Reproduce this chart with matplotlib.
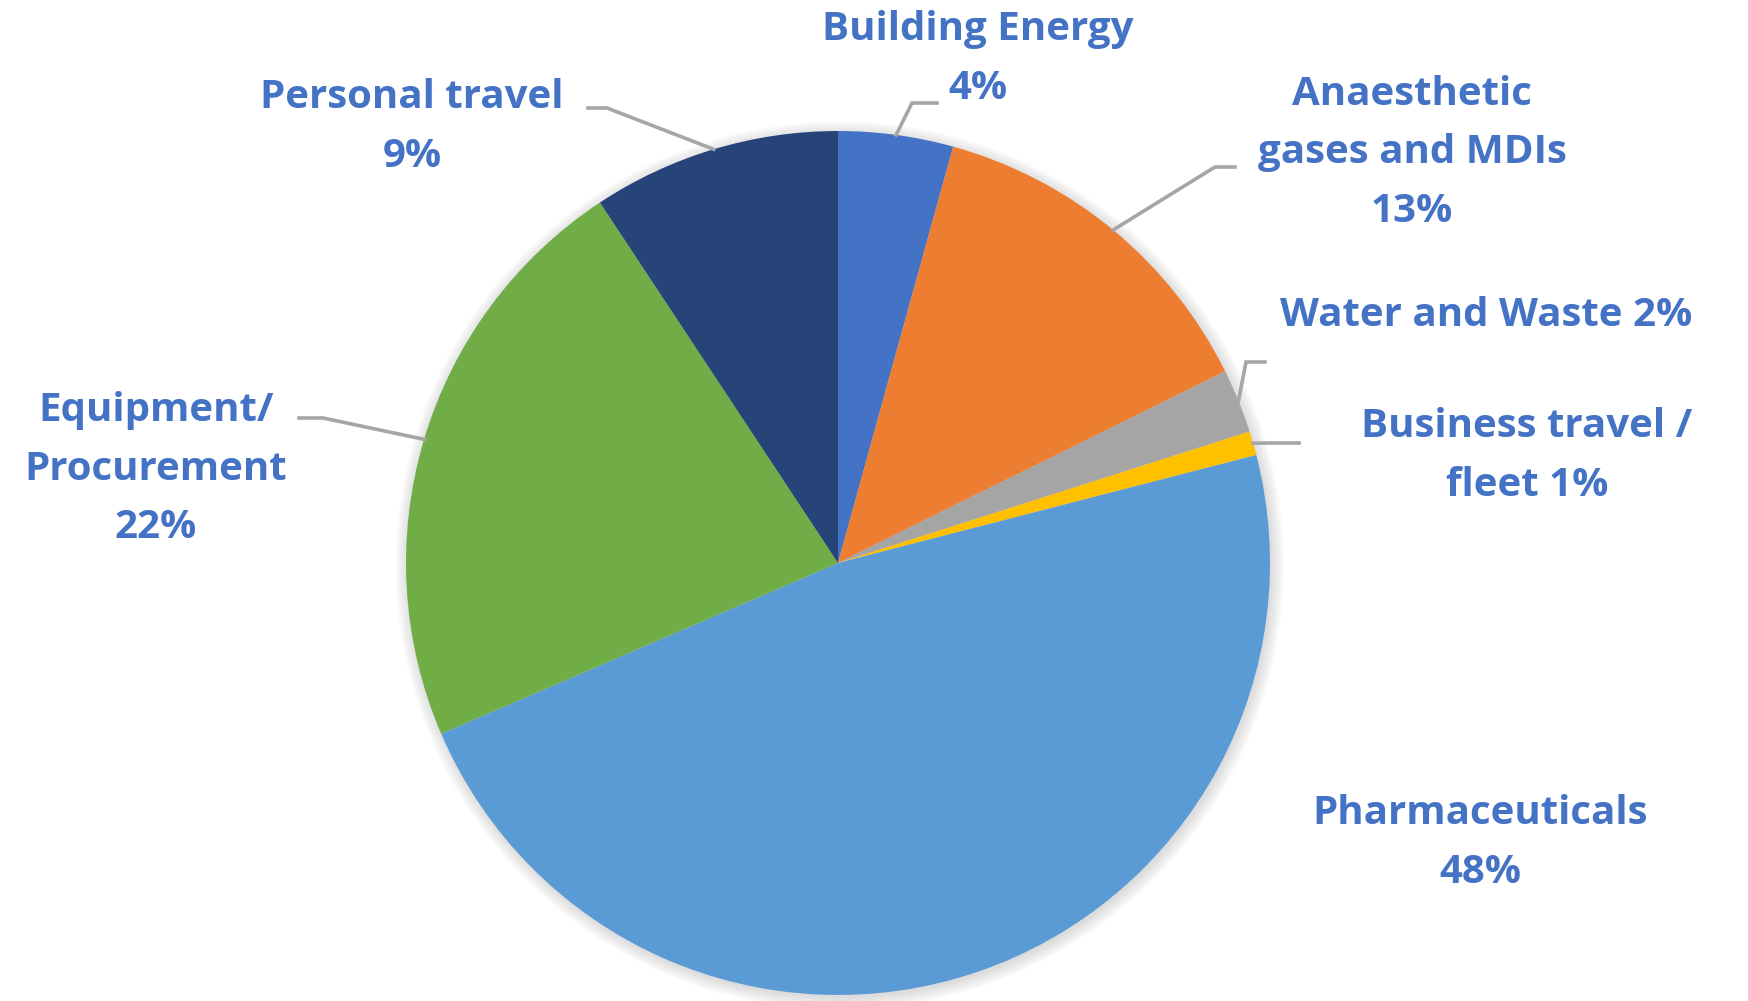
import matplotlib
matplotlib.use("Agg")
import matplotlib.pyplot as plt
from matplotlib.patches import Circle
import numpy as np

plt.rcParams["font.family"] = ["Open Sans", "DejaVu Sans"]

# data, clockwise from 12 o'clock
categories = ["Building Energy", "Anaesthetic\ngases and MDIs", "Water and Waste",
              "Business travel /\nfleet", "Pharmaceuticals", "Equipment/\nProcurement",
              "Personal travel"]
shares = [4.3, 13.4, 2.4, 0.9, 47.6, 22.2, 9.3]
joiners = ["\n", "\n", " ", " ", "\n", "\n", "\n"]
colors = ["#4472C4", "#ED7D31", "#A5A5A5", "#FFC000", "#5B9BD5", "#70AD47", "#264478"]

W, H = 1748, 1001
CX, CY, R = 838, 563, 432


def px(x, y):
    # figure pixels (from top-left) -> data units of the pie
    return (x - CX) / R, (CY - y) / R


fig = plt.figure(figsize=(W / 100, H / 100), dpi=100)
ax = fig.add_axes([0, 0, 1, 1])

# soft shadow round the pie
for k in range(8):
    ax.add_patch(Circle((0.004, -0.006), 1.0 + 0.004 * k, color="#808080",
                        alpha=0.035, lw=0, zorder=0))

wedges, _ = ax.pie(shares, colors=colors, startangle=90, counterclock=False,
                   radius=1.0, center=(0, 0), frame=True,
                   wedgeprops=dict(linewidth=0, zorder=2))
ax.set_xlim(px(0, 0)[0], px(W, 0)[0])
ax.set_ylim(px(0, H)[1], px(0, 0)[1])
ax.axis("off")

# label placement (pixel centres) and leader elbows
label_pos = [(978, 59, "center"), (1412, 153, "center"), (1280, 315, "left"),
             (1527, 456, "center"), (1480, 843, "center"), (156, 469, "center"),
             (412, 127, "center")]
leaders = [[(912, 103), (937, 103)], [(1215, 167), (1235, 167)],
           [(1246, 362), (1265, 362)], [(1271, 443), (1299, 443)], None,
           [(323, 418), (299, 418)], [(607, 108), (588, 108)]]

txt_color = "#4472C4"
for w, cat, j, share, pos, lead in zip(wedges, categories, joiners, shares,
                                       label_pos, leaders):
    x, y = px(pos[0], pos[1])
    ax.text(x, y, f"{cat}{j}{share:.0f}%", ha=pos[2], va="center",
            multialignment="center", fontsize=29, fontweight="bold",
            color=txt_color, linespacing=1.66, zorder=5)
    if lead is not None:
        mid = np.deg2rad((w.theta1 + w.theta2) / 2)
        pts = [(np.cos(mid), np.sin(mid))] + [px(a, b) for a, b in lead]
        xs, ys = zip(*pts)
        ax.plot(xs, ys, color="#A6A6A6", lw=2.6, zorder=4,
                solid_joinstyle="miter")

fig.savefig("out.png", dpi=100, facecolor="white")
